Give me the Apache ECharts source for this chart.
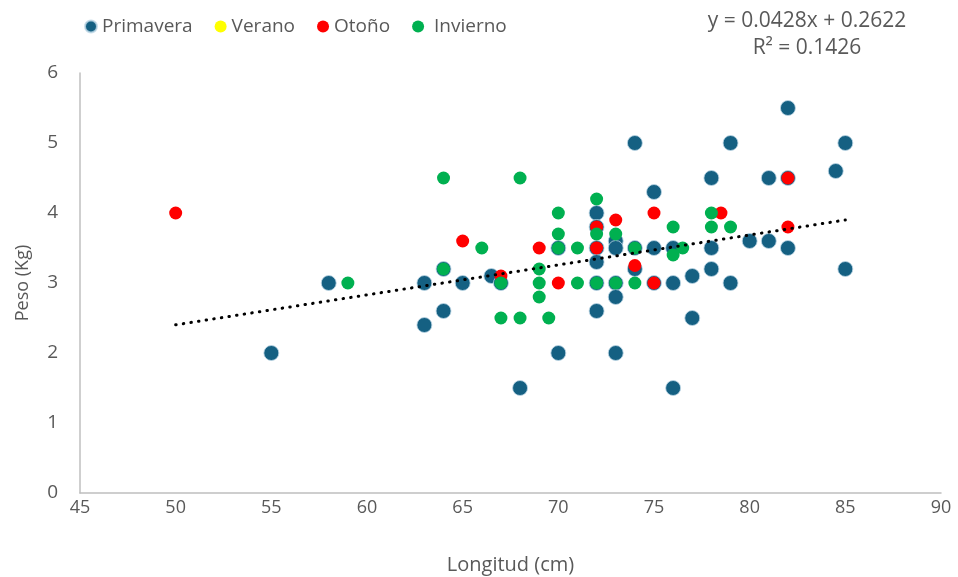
<!DOCTYPE html>
<html>
<head>
<meta charset="utf-8">
<script src="https://cdn.jsdelivr.net/npm/echarts@6/dist/echarts.min.js"></script>
<style>
html,body{margin:0;padding:0;background:#fff;}
#chart{width:958px;height:577px;}
</style>
</head>
<body>
<div id="chart"></div>
<script>
// ---- data ----
const seriesNames = ['Primavera', 'Verano', 'Otoño', ' Invierno'];
const xTicks = [45, 50, 55, 60, 65, 70, 75, 80, 85, 90];
const yTicks = [0, 1, 2, 3, 4, 5, 6];
const primavera = [
  [55,2],[58,3],[63,3],[63,2.4],[64,3.2],[64,2.6],[65,3],[66.5,3.1],[67,3],[68,1.5],
  [70,3.5],[70,2],[72,4],[72,3.8],[72,3.5],[72,3.3],[72,3],[72,2.6],[73,3.6],[73,3.5],
  [73,3],[73,2.8],[73,2],[74,5],[74,3.5],[74,3.2],[75,4.3],[75,3.5],[75,3],[76,3.5],
  [76,3],[76,1.5],[77,3.1],[77,2.5],[78,4.5],[78,3.5],[78,3.2],[79,5],[79,3],[80,3.6],
  [81,4.5],[81,3.6],[82,5.5],[82,4.5],[82,3.5],[84.5,4.6],[85,5],[85,3.2]
];
const verano = [];
const otono = [
  [50,4],[65,3.6],[67,3.1],[69,3.5],[70,3],[72,3.8],[72,3.5],[73,3.9],[74,3.25],
  [75,4],[75,3],[78.5,4],[82,4.5],[82,3.8]
];
const invierno = [
  [59,3],[64,4.5],[64,3.2],[66,3.5],[67,3],[67,2.5],[68,4.5],[68,2.5],[69,3.2],[69,3],
  [69,2.8],[69.5,2.5],[70,4],[70,3.7],[70,3.5],[71,3.5],[71,3],[72,4.2],[72,3.7],[72,3],
  [73,3.7],[73,3],[74,3.5],[74,3],[76,3.8],[76,3.4],[76.5,3.5],[78,4],[78,3.8],[79,3.8]
];
const trendSlope = 0.0428;
const trendIntercept = 0.2622;
const trendRange = [50, 85];
const equationText = 'y = 0.0428x + 0.2622';
const r2Text = 'R² = 0.1426';
const xName = 'Longitud (cm)';
const yName = 'Peso (Kg)';

// ---- chart ----
const trendData = trendRange.map(x => [x, trendSlope * x + trendIntercept]);
const txt = '#595959';
const fontF = '"Open Sans", "Liberation Sans", Arial, sans-serif';
const chart = echarts.init(document.getElementById('chart'), null, {renderer: 'canvas'});
chart.setOption({
  animation: false,
  backgroundColor: '#ffffff',
  grid: {left: 80, right: 17, top: 73, bottom: 84, containLabel: false, outerBoundsMode: 'none'},
  legend: {
    data: seriesNames,
    left: 79, top: 12,
    icon: 'circle',
    itemWidth: 12, itemHeight: 12,
    itemGap: 22,
    textStyle: {color: txt, fontSize: 19, fontFamily: fontF}
  },
  graphic: [
    {type: 'text', x: 807, y: 11, style: {text: equationText, fill: txt, font: '21px ' + fontF, textAlign: 'center'}},
    {type: 'text', x: 807, y: 38, style: {text: r2Text, fill: txt, font: '21px ' + fontF, textAlign: 'center'}}
  ],
  xAxis: {
    type: 'value', min: xTicks[0], max: xTicks[xTicks.length - 1], interval: 5,
    name: xName, nameLocation: 'middle', nameGap: 62,
    nameTextStyle: {color: txt, fontSize: 20, fontFamily: fontF},
    axisLine: {show: true, lineStyle: {color: '#bfbfbf', width: 1.5}},
    axisTick: {show: false},
    splitLine: {show: false},
    axisLabel: {color: txt, fontSize: 18, fontFamily: fontF, margin: 6}
  },
  yAxis: {
    type: 'value', min: yTicks[0], max: yTicks[yTicks.length - 1], interval: 1,
    name: yName, nameLocation: 'middle', nameGap: 48,
    nameTextStyle: {color: txt, fontSize: 18, fontFamily: fontF},
    axisLine: {show: true, lineStyle: {color: '#bfbfbf', width: 1.5}},
    axisTick: {show: false},
    splitLine: {show: false},
    axisLabel: {color: txt, fontSize: 19, fontFamily: fontF, margin: 22}
  },
  series: [
    {name: seriesNames[0], type: 'scatter', data: primavera, symbolSize: 15,
     itemStyle: {color: '#156082', opacity: 1, borderColor: 'rgba(190,215,230,0.8)', borderWidth: 1}, z: 2},
    {name: seriesNames[1], type: 'scatter', data: verano, symbolSize: 13,
     itemStyle: {color: '#FFFF00', opacity: 1}, z: 3},
    {name: seriesNames[2], type: 'scatter', data: otono, symbolSize: 13,
     itemStyle: {color: '#FF0000', opacity: 1}, z: 4},
    {name: seriesNames[3], type: 'scatter', data: invierno, symbolSize: 13,
     itemStyle: {color: '#00B050', opacity: 1}, z: 5},
    {name: 'Tendencia', type: 'line', data: trendData, symbol: 'none', silent: true, z: 6,
     lineStyle: {color: '#000000', width: 3, type: [0.5, 7.2], cap: 'round'}}
  ]
});
</script>
</body>
</html>
